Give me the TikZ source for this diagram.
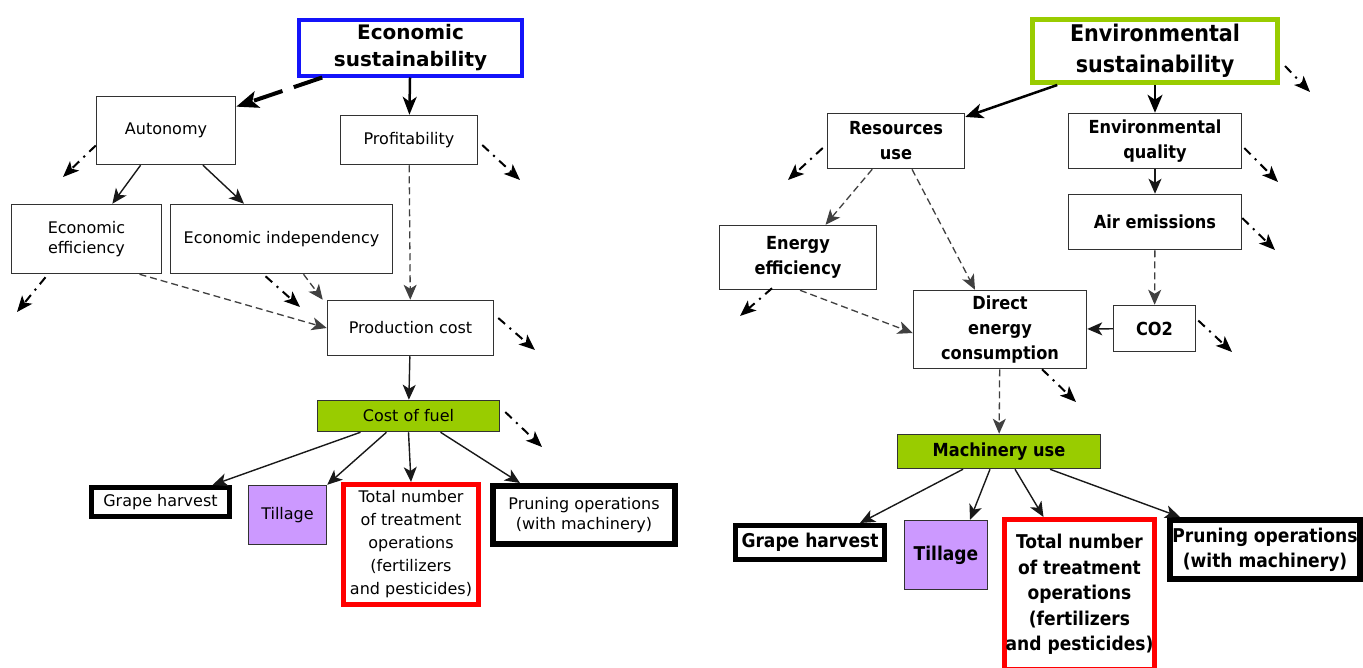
\documentclass[tikz,border=0pt]{standalone}
\usepackage{fontspec}
\setmainfont{DejaVu Sans}
\newfontfamily\narrowfont{DejaVu Sans Condensed}[BoldFont={DejaVu Sans Condensed Bold}]
\usetikzlibrary{arrows.meta}
\definecolor{econblue}{RGB}{20,20,250}
\definecolor{envgreen}{RGB}{153,204,0}
\definecolor{tilllilac}{RGB}{204,153,255}
\definecolor{boxgray}{RGB}{50,50,50}

\begin{document}
\begin{tikzpicture}[x=1pt,y=-1pt]
  \tikzset{
    box/.style={draw=boxgray, line width=1.5pt, fill=white, inner sep=1pt, align=center},
    lbox/.style={box, font=\fontsize{16}{20}\selectfont},
    rbox/.style={box, font=\narrowfont\bfseries\fontsize{18}{25}\selectfont},
    heavy/.style={draw=black, line width=5pt},
    headtip/.style={-{Stealth[length=15pt,width=13pt,inset=4pt]}},
    solidarrow/.style={headtip, line width=1.4pt, draw=black!90},
    dasharrow/.style={headtip, line width=1.3pt, draw=black!75, dash pattern=on 7pt off 4pt},
    spill/.style={-{Stealth[length=16pt,width=13pt,inset=4pt]}, line width=2pt, dash pattern=on 9pt off 6pt on 2pt off 6pt}
  }
  \useasboundingbox[fill=white] (0,0) rectangle (1363,667);

  % economic side
  \node[lbox, draw=econblue, line width=4pt, minimum width=223pt, minimum height=56pt,
        font=\bfseries\fontsize{20}{27}\selectfont] (econ) at (410.5,47.5) {Economic\\sustainability};
  \node[lbox, minimum width=139pt, minimum height=68pt] (auton) at (166,130.5) {Autonomy};
  \node[lbox, minimum width=137pt, minimum height=49pt] (profit) at (409,140) {Profitability};
  \node[lbox, minimum width=150pt, minimum height=69pt] (eceff) at (86.5,239) {Economic\\efficiency};
  \node[lbox, minimum width=222pt, minimum height=69pt] (ecind) at (281.5,239) {Economic independency};
  \node[lbox, minimum width=166pt, minimum height=55pt] (prodc) at (410.5,328) {Production cost};
  \node[lbox, fill=envgreen, minimum width=182pt, minimum height=31pt] (fuel) at (408.5,416) {Cost of fuel};
  \node[lbox, heavy, minimum width=138pt, minimum height=29pt] (grapeL) at (160.5,502) {Grape harvest};
  \node[lbox, fill=tilllilac, minimum width=78pt, minimum height=59pt] (tillL) at (287.5,515) {Tillage};
  \node[lbox, draw=red, line width=5pt, minimum width=135pt, minimum height=120pt,
        font=\fontsize{16}{23}\selectfont] (totalL) at (411,544.5)
        {Total number\\of treatment\\operations\\(fertilizers\\and pesticides)};
  \node[lbox, heavy, line width=6pt, minimum width=182pt, minimum height=58pt] (pruneL) at (584,515)
        {Pruning operations\\(with machinery)};

  \draw[solidarrow, draw=black, line width=4pt, dash pattern=on 30pt off 12pt,
        -{Stealth[length=22pt,width=17pt,inset=5pt]}] (econ) -- (auton);
  \draw[solidarrow, draw=black, line width=2.5pt, -{Stealth[length=18pt,width=14pt,inset=5pt]}] (econ) -- (profit);
  \draw[solidarrow] (auton) -- (eceff);
  \draw[solidarrow] (auton) -- (ecind);
  \draw[dasharrow] (profit) -- (prodc);
  \draw[dasharrow] ([xshift=53pt]eceff.south) -- (prodc.west);
  \draw[dasharrow] ([xshift=22pt]ecind.south) -- ([xshift=-4pt]prodc.north west);
  \draw[solidarrow] (prodc) -- (fuel);
  \draw[solidarrow] ([xshift=-48pt]fuel.south) -- ([xshift=52pt]grapeL.north);
  \draw[solidarrow] ([xshift=-22pt]fuel.south) -- (tillL.north east);
  \draw[solidarrow] (fuel.south) -- (totalL.north);
  \draw[solidarrow] ([xshift=32pt]fuel.south) -- ([xshift=-64pt]pruneL.north);

  \coordinate (auton-out) at (63,177);
  \coordinate (profit-out) at (520,180);
  \coordinate (eceff-out) at (17,312);
  \coordinate (ecind-out) at (300,307);
  \coordinate (prodc-out) at (535,350);
  \coordinate (fuel-out) at (542,447);
  \draw[spill] ([yshift=-15pt]auton.west) -- (auton-out);
  \draw[spill] ([xshift=4pt,yshift=-5pt]profit.east) -- (profit-out);
  \draw[spill] ([xshift=-41pt,yshift=-3pt]eceff.south) -- (eceff-out);
  \draw[spill] ([xshift=-16pt,yshift=-2pt]ecind.south) -- (ecind-out);
  \draw[spill] ([xshift=4pt,yshift=10pt]prodc.east) -- (prodc-out);
  \draw[spill] ([xshift=5pt,yshift=4pt]fuel.east) -- (fuel-out);

  % environmental side
  \node[rbox, draw=envgreen, line width=5pt, minimum width=245pt, minimum height=63pt,
        font=\narrowfont\bfseries\fontsize{23}{31}\selectfont] (env) at (1155,51) {Environmental\\sustainability};
  \node[rbox, minimum width=137pt, minimum height=55pt] (resuse) at (896,141) {Resources\\use};
  \node[rbox, minimum width=173pt, minimum height=55pt] (envq) at (1155,141) {Environmental\\quality};
  \node[rbox, minimum width=173pt, minimum height=55pt] (airem) at (1155,222) {Air emissions};
  \node[rbox, minimum width=157pt, minimum height=64pt] (eneff) at (798,257.5) {Energy\\efficiency};
  \node[rbox, minimum width=173pt, minimum height=78pt] (dec) at (1000,329.5) {Direct\\energy\\consumption};
  \node[rbox, minimum width=82pt, minimum height=46pt] (co2) at (1154.5,328.5) {CO2};
  \node[rbox, fill=envgreen, minimum width=203pt, minimum height=34pt] (mach) at (999,451.5) {Machinery use};
  \node[rbox, heavy, minimum width=149pt, minimum height=34pt, font=\narrowfont\bfseries\fontsize{19}{25}\selectfont]
        (grapeR) at (810,542.5) {Grape harvest};
  \node[rbox, fill=tilllilac, minimum width=83pt, minimum height=69pt, font=\narrowfont\bfseries\fontsize{19}{25}\selectfont]
        (tillR) at (946,555) {Tillage};
  \node[rbox, draw=red, line width=5pt, minimum width=148pt, minimum height=150pt,
        font=\narrowfont\bfseries\fontsize{19}{25.5}\selectfont] (totalR) at (1079.5,594.5)
        {Total number\\of treatment\\operations\\(fertilizers\\and pesticides)};
  \node[rbox, heavy, line width=6pt, minimum width=190pt, minimum height=59pt,
        font=\narrowfont\bfseries\fontsize{19}{25}\selectfont] (pruneR) at (1265,549.5)
        {Pruning operations\\(with machinery)};

  \draw[solidarrow, draw=black, line width=2.5pt, -{Stealth[length=18pt,width=15pt,inset=5pt]}] (env) -- (resuse);
  \draw[solidarrow, draw=black, line width=2.5pt, -{Stealth[length=18pt,width=15pt,inset=5pt]}] (env) -- (envq);
  \draw[solidarrow] (envq) -- (airem);
  \draw[dasharrow] (airem) -- (co2);
  \draw[solidarrow] (co2) -- (dec);
  \draw[dasharrow] (resuse) -- (eneff);
  \draw[dasharrow] ([xshift=16pt]resuse.south) -- ([xshift=-25pt]dec.north);
  \draw[dasharrow] ([xshift=2pt]eneff.south) -- ([yshift=-3.5pt]dec.west);
  \draw[dasharrow] (dec) -- (mach);
  \draw[solidarrow] ([xshift=-36pt]mach.south) -- ([xshift=50pt]grapeR.north);
  \draw[solidarrow] ([xshift=-9pt]mach.south) -- ([xshift=24pt]tillR.north);
  \draw[solidarrow] ([xshift=16pt]mach.south) -- ([xshift=-36pt]totalR.north);
  \draw[solidarrow] ([xshift=51pt]mach.south) -- ([xshift=-85pt]pruneR.north);

  \coordinate (env-out) at (1310,92);
  \coordinate (resuse-out) at (788,180);
  \coordinate (envq-out) at (1278,182);
  \coordinate (airem-out) at (1275,250);
  \coordinate (eneff-out) at (740,316);
  \coordinate (co2-out) at (1232,352);
  \coordinate (dec-out) at (1076,402);
  \draw[spill] ([xshift=5pt,yshift=-15pt]env.east) -- (env-out);
  \draw[spill] ([xshift=-4pt,yshift=-7pt]resuse.west) -- (resuse-out);
  \draw[spill] ([xshift=2pt,yshift=-7pt]envq.east) -- (envq-out);
  \draw[spill] ([yshift=4pt]airem.east) -- (airem-out);
  \draw[spill] ([xshift=-26pt,yshift=2pt]eneff.south) -- (eneff-out);
  \draw[spill] ([xshift=2pt,yshift=8pt]co2.east) -- (co2-out);
  \draw[spill] ([xshift=42pt]dec.south) -- (dec-out);
\end{tikzpicture}
\end{document}
